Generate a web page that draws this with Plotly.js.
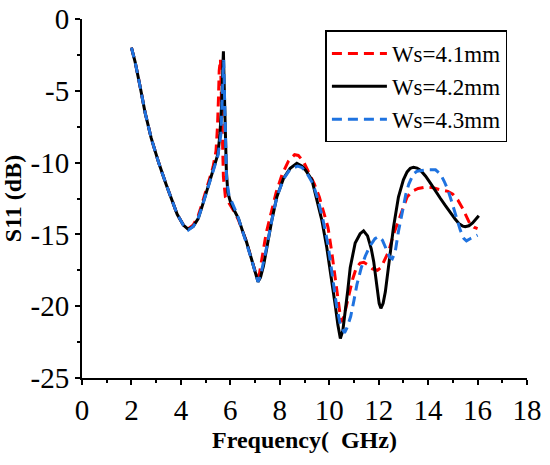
<!DOCTYPE html>
<html>
<head>
<meta charset="utf-8">
<script src="https://cdn.plot.ly/plotly-3.0.1.min.js"></script>
<style>html,body{margin:0;padding:0;background:#fff;}#chart{width:550px;height:465px;}</style>
</head>
<body>
<div id="chart"></div>
<script>
// Ws = 4.1 mm (red dashed)
const freq41 = [2.0,2.15,2.35,2.55,2.8,3.1,3.4,3.6,3.85,4.1,4.3,4.5,4.7,4.85,5.1,5.3,5.42,5.48,5.52,5.55,5.6,5.63,5.67,5.72,5.8,5.9,6.0,6.15,6.33,6.5,6.65,6.87,7.0,7.08,7.18,7.3,7.45,7.65,7.85,8.1,8.35,8.6,8.75,8.95,9.15,9.4,9.6,9.8,9.95,10.1,10.25,10.35,10.48,10.55,10.65,10.8,10.95,11.1,11.25,11.4,11.55,11.75,11.95,12.1,12.25,12.4,12.6,12.81,13.0,13.15,13.35,13.6,13.9,14.2,14.5,14.8,15.0,15.2,15.4,15.55,15.7,15.85,16.0];
const s11_41 = [-2.0,-3.0,-4.7,-6.5,-8.3,-10.0,-11.5,-12.4,-13.6,-14.35,-14.6,-14.35,-13.7,-12.9,-11.5,-10.3,-9.2,-7.5,-5.5,-3.6,-2.8,-4.5,-8.0,-11.0,-12.4,-12.7,-12.9,-13.4,-14.0,-14.8,-15.5,-16.8,-17.5,-18.0,-17.7,-16.3,-14.9,-13.5,-12.1,-10.8,-9.9,-9.45,-9.5,-9.9,-10.6,-11.5,-12.4,-13.6,-14.5,-16.2,-18.2,-19.7,-21.1,-20.9,-20.3,-19.2,-18.1,-17.3,-17.0,-16.95,-17.1,-17.4,-17.5,-17.3,-16.8,-16.2,-15.0,-14.0,-13.2,-12.4,-12.0,-11.8,-11.7,-11.75,-11.9,-12.0,-12.2,-12.6,-13.2,-13.8,-14.3,-14.5,-14.6];

// Ws = 4.2 mm (black solid)
const freq42 = [2.0,2.15,2.35,2.55,2.8,3.1,3.4,3.6,3.85,4.1,4.3,4.5,4.7,4.85,5.1,5.35,5.5,5.58,5.65,5.7,5.72,5.75,5.79,5.84,5.9,6.0,6.15,6.33,6.5,6.65,6.87,7.0,7.12,7.22,7.34,7.48,7.68,7.88,8.15,8.42,8.69,8.9,9.05,9.3,9.5,9.7,9.9,10.1,10.25,10.35,10.45,10.55,10.65,10.75,10.85,11.05,11.25,11.39,11.55,11.7,11.8,11.93,12.02,12.09,12.18,12.27,12.4,12.5,12.6,12.8,13.0,13.15,13.28,13.41,13.55,13.7,13.9,14.1,14.3,14.5,14.7,14.9,15.1,15.25,15.4,15.5,15.65,15.8,15.95,16.05];
const s11_42 = [-2.0,-3.0,-4.7,-6.5,-8.3,-10.0,-11.5,-12.4,-13.6,-14.35,-14.65,-14.45,-13.9,-13.1,-11.7,-10.4,-9.4,-8.0,-5.9,-3.2,-2.25,-4.5,-7.3,-10.6,-12.1,-12.7,-13.3,-13.9,-14.8,-15.5,-16.8,-17.6,-18.3,-18.0,-17.2,-15.9,-14.0,-12.4,-11.1,-10.4,-10.05,-10.25,-10.55,-11.2,-12.5,-14.0,-15.9,-18.1,-20.0,-21.3,-22.25,-21.7,-20.4,-18.9,-17.3,-15.6,-14.95,-14.75,-15.1,-16.0,-16.9,-18.6,-19.8,-20.15,-19.8,-19.0,-17.3,-15.8,-14.5,-12.4,-11.2,-10.65,-10.4,-10.32,-10.38,-10.55,-10.95,-11.45,-12.0,-12.5,-13.0,-13.5,-13.95,-14.25,-14.42,-14.47,-14.4,-14.2,-13.9,-13.7];

// Ws = 4.3 mm (blue dashed)
const freq43 = [2.0,2.15,2.35,2.55,2.8,3.1,3.4,3.6,3.85,4.1,4.3,4.5,4.7,4.85,5.1,5.35,5.5,5.62,5.68,5.71,5.73,5.76,5.8,5.85,5.95,6.06,6.2,6.33,6.5,6.65,6.87,7.0,7.12,7.22,7.34,7.48,7.68,7.88,8.15,8.42,8.72,8.9,9.1,9.35,9.55,9.75,9.95,10.12,10.3,10.45,10.62,10.72,10.87,11.0,11.12,11.3,11.46,11.65,11.85,12.0,12.15,12.3,12.45,12.55,12.67,12.8,12.94,13.1,13.22,13.4,13.55,13.8,14.0,14.3,14.5,14.65,14.8,14.95,15.1,15.3,15.45,15.55,15.7,15.85,16.0];
const s11_43 = [-2.0,-3.0,-4.7,-6.5,-8.3,-10.0,-11.5,-12.4,-13.6,-14.35,-14.7,-14.45,-13.9,-13.1,-11.7,-10.4,-9.5,-8.0,-5.5,-3.5,-2.85,-5.0,-9.0,-11.2,-12.3,-12.7,-13.3,-13.9,-14.8,-15.5,-16.8,-17.6,-18.3,-17.9,-17.0,-15.8,-14.0,-12.4,-11.15,-10.45,-10.25,-10.35,-10.75,-11.5,-12.6,-14.0,-15.7,-17.8,-20.0,-21.3,-21.85,-21.5,-20.7,-19.6,-18.5,-17.3,-16.5,-15.8,-15.3,-15.15,-15.4,-16.0,-16.6,-16.7,-16.2,-14.8,-13.5,-12.2,-11.5,-10.8,-10.6,-10.55,-10.5,-10.5,-10.8,-11.3,-11.9,-12.7,-13.6,-14.7,-15.3,-15.45,-15.3,-15.15,-15.05];

const seriesNames = ["Ws=4.1mm", "Ws=4.2mm", "Ws=4.3mm"];
const yTickVals = [0, -5, -10, -15, -20, -25];
const yTickText = ["0", "-5", "-10", "-15", "-20", "-25"];
const xTitle = "Frequency(\u00a0 GHz)";
const yTitle = "S11 (dB)";

const serif = "Liberation Serif, Times New Roman, serif";

const traces = [
  {x: freq41, y: s11_41, name: seriesNames[0], mode: "lines",
   line: {color: "#ff0000", width: 3, dash: "10px,6px"}},
  {x: freq42, y: s11_42, name: seriesNames[1], mode: "lines",
   line: {color: "#000000", width: 3}},
  {x: freq43, y: s11_43, name: seriesNames[2], mode: "lines",
   line: {color: "#1f73e0", width: 3, dash: "10px,6px"}}
];

const layout = {
  width: 550, height: 465,
  margin: {l: 82, r: 23, t: 19, b: 87},
  paper_bgcolor: "#fff", plot_bgcolor: "#fff",
  showlegend: true,
  legend: {
    x: 0.547, y: 0.968, xanchor: "left", yanchor: "top",
    font: {family: serif, size: 23, color: "#000"},
    bordercolor: "#000", borderwidth: 1.5, bgcolor: "#fff",
    itemwidth: 55, tracegroupgap: 0
  },
  xaxis: {
    range: [0, 18], dtick: 2, tick0: 0,
    showline: true, linecolor: "#000", linewidth: 2,
    ticks: "outside", ticklen: 5, tickwidth: 2, tickcolor: "#000",
    minor: {dtick: 1, tick0: 0, ticks: "outside", ticklen: 3, tickwidth: 2, tickcolor: "#000"},
    showgrid: false, zeroline: false, mirror: false,
    tickfont: {family: serif, size: 29, color: "#000"},
    title: {text: xTitle, font: {family: serif, size: 24, color: "#000", weight: "bold"}, standoff: 6}
  },
  yaxis: {
    range: [-25, 0], tickmode: "array", tickvals: yTickVals, ticktext: yTickText,
    showline: true, linecolor: "#000", linewidth: 2,
    ticks: "outside", ticklen: 5, tickwidth: 2, tickcolor: "#000",
    minor: {tickmode: "linear", dtick: 2.5, tick0: 0, ticks: "outside", ticklen: 3, tickwidth: 2, tickcolor: "#000"},
    showgrid: false, zeroline: false, mirror: false,
    tickfont: {family: serif, size: 29, color: "#000"},
    title: {text: yTitle, font: {family: serif, size: 24, color: "#000", weight: "bold"}, standoff: 2}
  }
};

Plotly.newPlot("chart", traces, layout, {displayModeBar: false, staticPlot: true});
</script>
</body>
</html>
